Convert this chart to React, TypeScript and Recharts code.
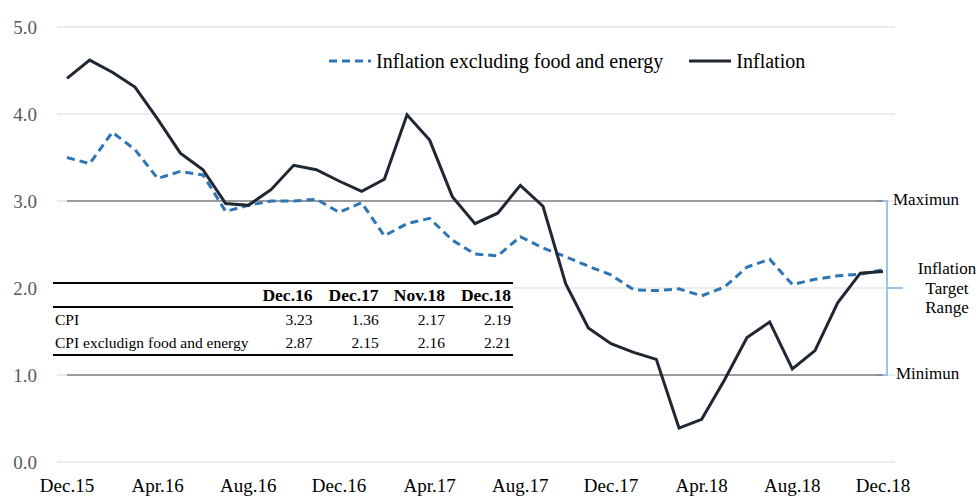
import React from "react";
import {
  LineChart, Line, XAxis, YAxis, CartesianGrid, Legend, ReferenceLine, ReferenceArea,
} from "recharts";

const months = [
  "Dec.15", "Jan.16", "Feb.16", "Mar.16", "Apr.16", "May.16", "Jun.16", "Jul.16", "Aug.16",
  "Sep.16", "Oct.16", "Nov.16", "Dec.16", "Jan.17", "Feb.17", "Mar.17", "Apr.17", "May.17",
  "Jun.17", "Jul.17", "Aug.17", "Sep.17", "Oct.17", "Nov.17", "Dec.17", "Jan.18", "Feb.18",
  "Mar.18", "Apr.18", "May.18", "Jun.18", "Jul.18", "Aug.18", "Sep.18", "Oct.18", "Nov.18",
  "Dec.18",
];

const inflation = [
  4.41, 4.62, 4.48, 4.31, 3.94, 3.55, 3.36, 2.97, 2.95, 3.13, 3.41, 3.36, 3.23,
  3.11, 3.25, 3.99, 3.7, 3.05, 2.74, 2.86, 3.18, 2.94, 2.05, 1.54, 1.36,
  1.26, 1.18, 0.39, 0.49, 0.94, 1.43, 1.61, 1.07, 1.28, 1.83, 2.17, 2.19,
];

const coreInflation = [
  3.5, 3.43, 3.79, 3.59, 3.26, 3.34, 3.3, 2.88, 2.95, 3.0, 3.0, 3.02, 2.87,
  2.98, 2.6, 2.74, 2.8, 2.55, 2.39, 2.37, 2.59, 2.46, 2.36, 2.25, 2.15,
  1.98, 1.97, 1.99, 1.91, 2.01, 2.24, 2.33, 2.04, 2.1, 2.14, 2.16, 2.21,
];

const yTicks = [0, 1, 2, 3, 4, 5];
const targetMin = 1;
const targetMax = 3;

const tableCols = ["Dec.16", "Dec.17", "Nov.18", "Dec.18"];
const tableRowLabels = ["CPI", "CPI excludign food and energy"];
const cpiRow = [3.23, 1.36, 2.17, 2.19];
const cpiCoreRow = [2.87, 2.15, 2.16, 2.21];

const data = months.map((m, i) => ({ month: m, core: coreInflation[i], inflation: inflation[i] }));

const FONT = '"Liberation Serif", "Times New Roman", serif';
const DARK = "#1f2733";
const BLUE = "#2e75b6";
const seriesOrder = ["core", "inflation"];
const dashes: Record<string, string | undefined> = { core: "8 5", inflation: undefined };

const renderLegend = (props: any) => {
  const items = [...(props.payload || [])].sort(
    (a: any, b: any) => seriesOrder.indexOf(a.dataKey) - seriesOrder.indexOf(b.dataKey)
  );
  return (
    <div style={{ display: "flex", alignItems: "center", fontFamily: FONT, fontSize: 20, color: "#000", lineHeight: "26px", whiteSpace: "nowrap" }}>
      {items.map((e: any) => (
        <div key={e.value} style={{ display: "flex", alignItems: "center", marginRight: 25 }}>
          <svg width={44} height={10}>
            <line x1={1} y1={5} x2={43} y2={5} stroke={e.color} strokeWidth={3} strokeDasharray={dashes[e.dataKey]} />
          </svg>
          <span style={{ marginLeft: 4 }}>{e.value}</span>
        </div>
      ))}
    </div>
  );
};

// bracket + labels to the right of the target range
const TargetBracket = (props: any) => {
  const { x, y, width, height } = props;
  const right = x + width;
  const top = y;
  const bottom = y + height;
  const mid = y + height / 2;
  const bx = right + 4;
  return (
    <g fontFamily={FONT} fontSize={17} fill="#000">
      <path d={`M${right - 5},${top} H${bx} V${bottom} H${right - 5}`} stroke="#9dc3e6" strokeWidth={2} fill="none" />
      <line x1={bx} y1={mid} x2={bx + 16} y2={mid} stroke="#9dc3e6" strokeWidth={2} />
      <text x={right + 10} y={top} dominantBaseline="middle">Maximun</text>
      <text x={947} y={mid - 18} textAnchor="middle" dominantBaseline="middle">Inflation</text>
      <text x={947} y={mid + 2} textAnchor="middle" dominantBaseline="middle">Target</text>
      <text x={947} y={mid + 21} textAnchor="middle" dominantBaseline="middle">Range</text>
      <text x={right + 13} y={bottom} dominantBaseline="middle">Minimun</text>
    </g>
  );
};

const cellStyle: React.CSSProperties = { padding: "0 2px 0 0", textAlign: "right", width: 67 };

export default function App() {
  return (
    <div style={{ position: "absolute", left: 0, top: 0, width: 977, height: 498, background: "#fff" }}>
      <LineChart width={977} height={498} data={data} margin={{ top: 27, right: 82, bottom: 6, left: 7 }}>
        <CartesianGrid vertical={false} stroke="#d9d9d9" strokeWidth={1} />
        <XAxis
          dataKey="month"
          interval={3}
          padding={{ left: 10, right: 12 }}
          axisLine={false}
          tickLine={false}
          tickSize={0}
          tickMargin={17}
          height={30}
          tick={{ fontFamily: FONT, fontSize: 19, fill: "#000" }}
        />
        <YAxis
          domain={[0, 5]}
          ticks={yTicks}
          width={50}
          axisLine={false}
          tickLine={false}
          tickSize={0}
          tickMargin={20}
          tickFormatter={(v: number) => v.toFixed(1)}
          tick={{ fontFamily: FONT, fontSize: 19, fill: "#595959" }}
        />
        <ReferenceArea y1={targetMin} y2={targetMax} ifOverflow="visible" shape={(p: any) => <TargetBracket {...p} />} />
        <ReferenceLine
          segment={[{ x: months[0], y: targetMax }, { x: months[months.length - 1], y: targetMax }]}
          stroke="#808080"
          strokeWidth={1.5}
        />
        <ReferenceLine
          segment={[{ x: months[0], y: targetMin }, { x: months[months.length - 1], y: targetMin }]}
          stroke="#808080"
          strokeWidth={1.5}
        />
        <Legend
          layout="horizontal"
          verticalAlign="middle"
          align="center"
          wrapperStyle={{ top: 48, left: 328, width: "auto", height: 26 }}
          content={renderLegend}
        />
        <Line
          type="linear"
          dataKey="core"
          name="Inflation excluding food and energy"
          stroke={BLUE}
          strokeWidth={3}
          strokeDasharray="8 5"
          dot={false}
          isAnimationActive={false}
        />
        <Line
          type="linear"
          dataKey="inflation"
          name="Inflation"
          stroke={DARK}
          strokeWidth={3}
          dot={false}
          isAnimationActive={false}
        />
      </LineChart>
      <table
        style={{
          position: "absolute", left: 53, top: 282, width: 460, borderCollapse: "collapse",
          background: "#fff", fontFamily: FONT, fontSize: 15.5, color: "#000",
        }}
      >
        <thead>
          <tr style={{ height: 24, borderTop: "2px solid #000", borderBottom: "2px solid #000" }}>
            <th style={{ width: 192 }} />
            {tableCols.map((c) => (
              <th key={c} style={{ ...cellStyle, fontWeight: "bold", fontSize: 17.5 }}>{c}</th>
            ))}
          </tr>
        </thead>
        <tbody>
          {[cpiRow, cpiCoreRow].map((row, r) => (
            <tr key={r} style={{ height: 24, borderBottom: r === 1 ? "2px solid #000" : undefined }}>
              <td style={{ textAlign: "left", padding: "0 0 0 2px", whiteSpace: "nowrap" }}>{tableRowLabels[r]}</td>
              {row.map((v, i) => (
                <td key={i} style={cellStyle}>{v.toFixed(2)}</td>
              ))}
            </tr>
          ))}
        </tbody>
      </table>
    </div>
  );
}
